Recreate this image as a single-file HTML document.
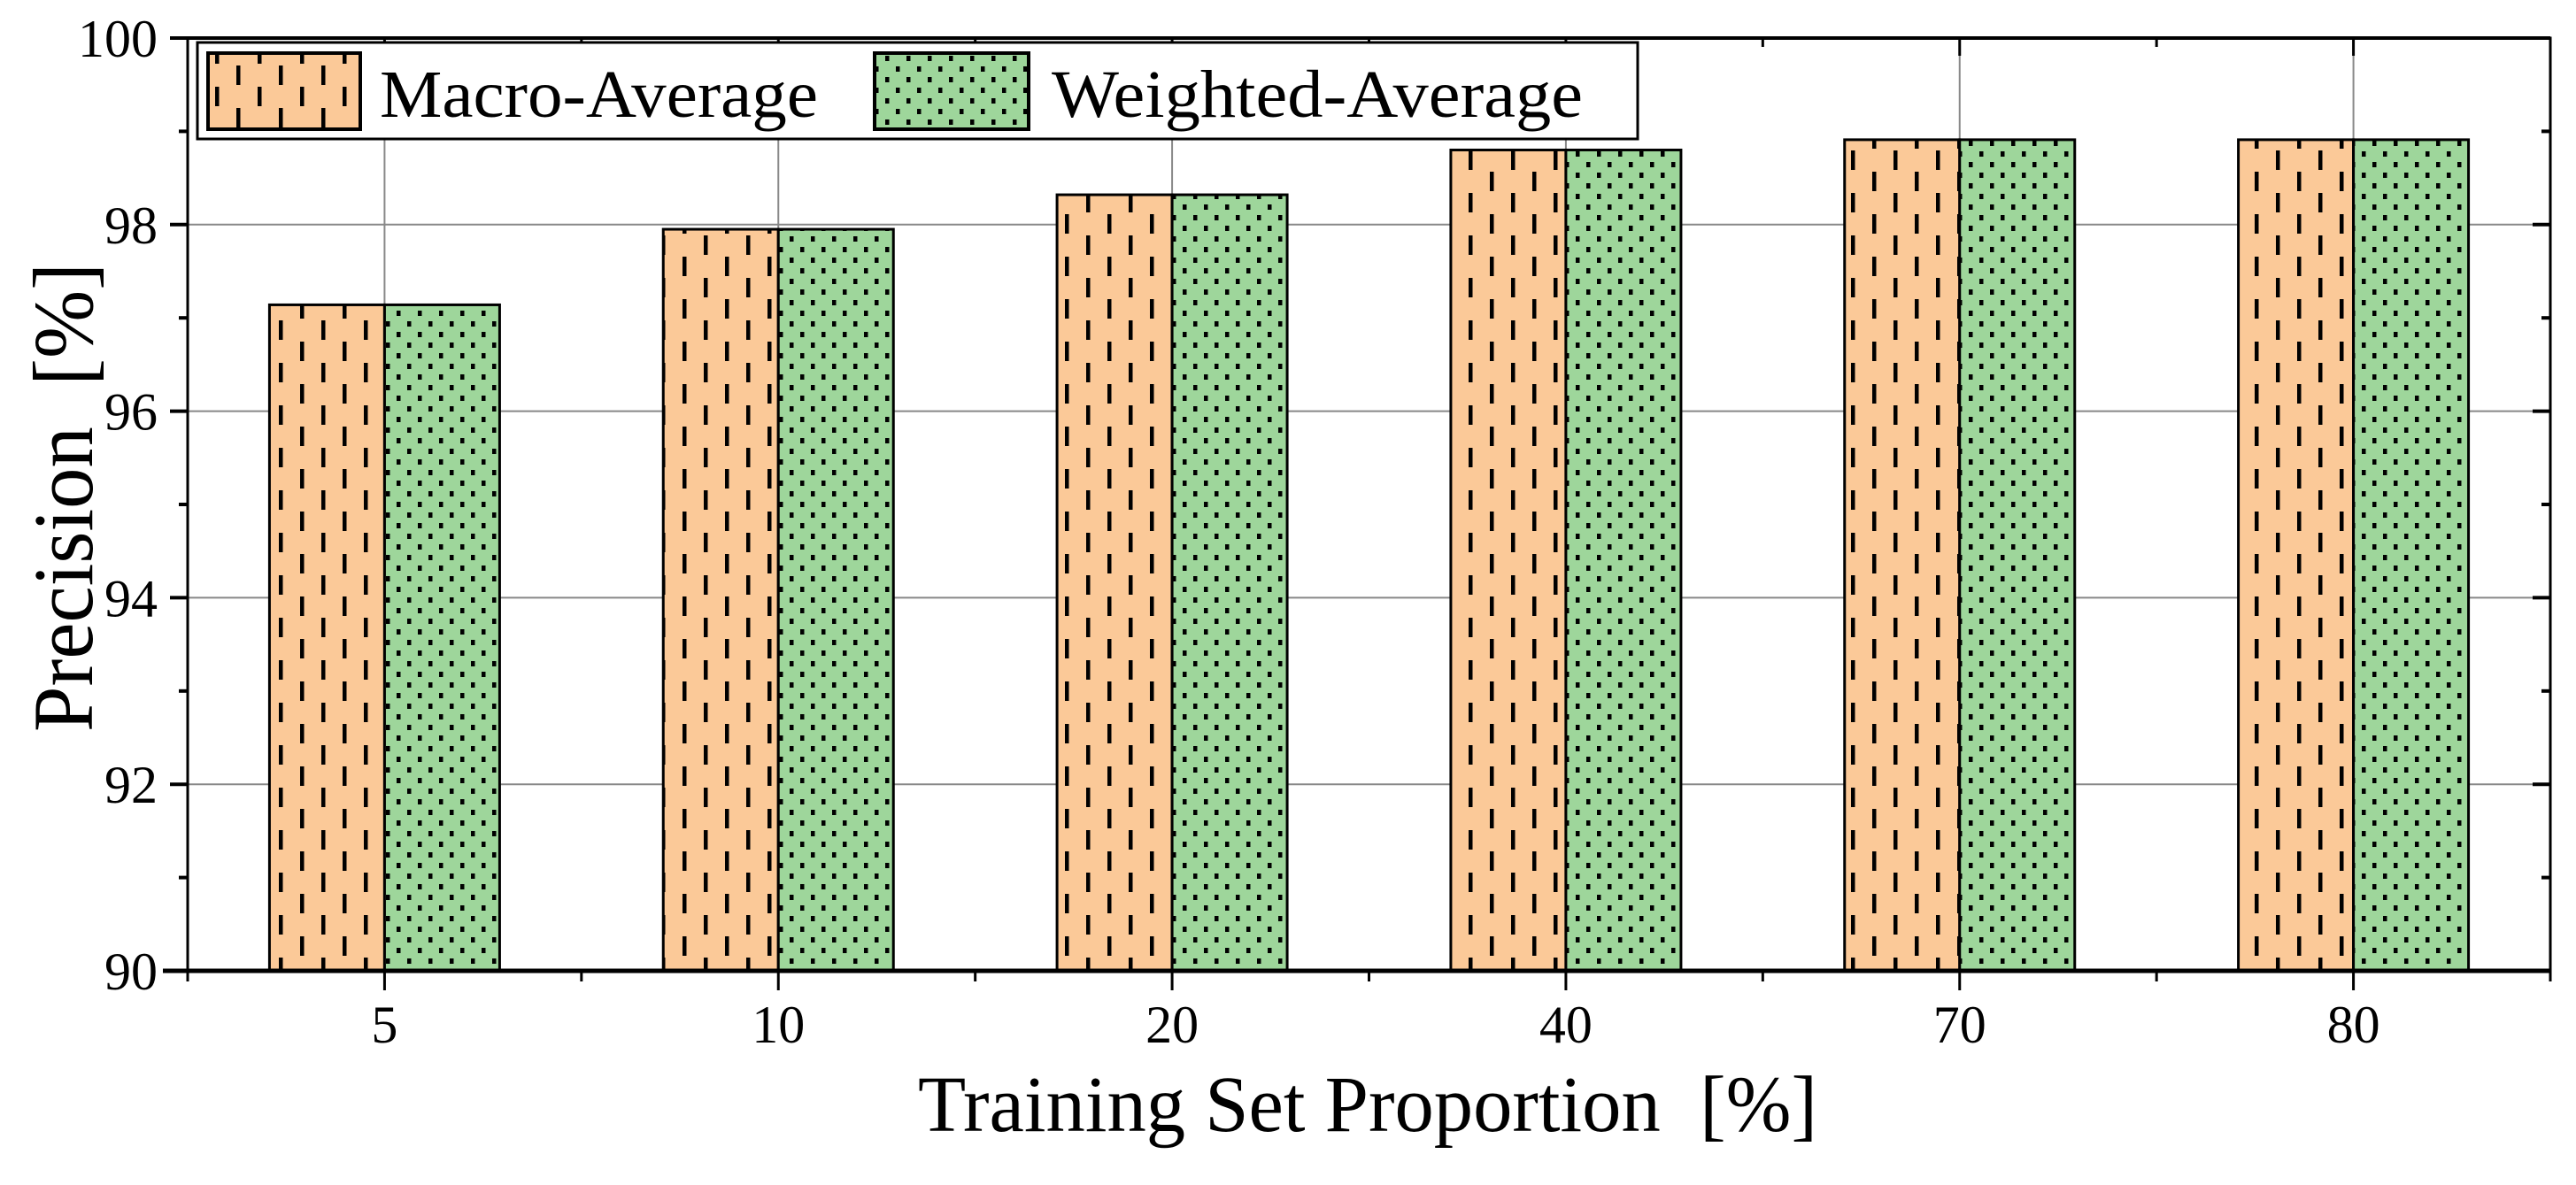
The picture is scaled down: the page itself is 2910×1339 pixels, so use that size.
<!DOCTYPE html>
<html><head><meta charset="utf-8"><style>
html,body{margin:0;padding:0;background:#fff}
svg{display:block}
text{font-family:"Liberation Serif",serif;fill:#000}
</style></head><body>
<svg id="chart" width="2910" height="1339" viewBox="0 0 2910 1339">
<defs>
<pattern id="pDash" patternUnits="userSpaceOnUse" width="48" height="48" x="3" y="0">
<rect width="48" height="48" fill="#FBC998"/>
<rect x="0" y="2" width="4.5" height="22" fill="#000"/>
<rect x="24" y="26" width="4.5" height="22" fill="#000"/>
</pattern>
<pattern id="pDot" patternUnits="userSpaceOnUse" width="24" height="24" x="4" y="0">
<rect width="24" height="24" fill="#9ED69B"/>
<rect x="0" y="3" width="4.5" height="6" fill="#000"/>
<rect x="12" y="15" width="4.5" height="6" fill="#000"/>
</pattern>
</defs>
<g id="grid"></g>
<g id="bars"></g>
<g id="axes"></g>
<g>
<rect x="223" y="48" width="1627" height="109" fill="#fff" stroke="#000" stroke-width="3"/>
<rect x="235" y="60" width="172" height="86" fill="url(#pDash)" stroke="#000" stroke-width="4"/>
<text x="429" y="132" font-size="76" textLength="495" lengthAdjust="spacingAndGlyphs">Macro-Average</text>
<rect x="988" y="60" width="174" height="86" fill="url(#pDot)" stroke="#000" stroke-width="4"/>
<text x="1188" y="132" font-size="76" textLength="600" lengthAdjust="spacingAndGlyphs">Weighted-Average</text>
</g>
<text x="1545" y="1278" font-size="90" text-anchor="middle" textLength="1016" lengthAdjust="spacingAndGlyphs" style="white-space:pre">Training Set Proportion  [%]</text>
<text transform="translate(104,562) rotate(-90)" font-size="96" text-anchor="middle" textLength="530" lengthAdjust="spacingAndGlyphs" style="white-space:pre">Precision  [%]</text>
</svg>
<script>
const categories = ["5","10","20","40","70","80"];
const macroValues = [97.14, 97.95, 98.32, 98.80, 98.91, 98.91];
const weightedValues = [97.14, 97.95, 98.32, 98.80, 98.91, 98.91];
const yTicks = [90, 92, 94, 96, 98, 100];
const yMinorTicks = [91, 93, 95, 97, 99];

const NS = "http://www.w3.org/2000/svg";
const L = 212, R = 2881, T = 43, B = 1097;
const yMin = 90, yMax = 100;
const n = categories.length;
const band = (R - L) / n;
function xPos(i){ return L + band * (i + 0.5); }
function yPos(v){ return B - (v - yMin) / (yMax - yMin) * (B - T); }
function mk(tag, attrs, parent){
  const e = document.createElementNS(NS, tag);
  for (const k in attrs) e.setAttribute(k, attrs[k]);
  parent.appendChild(e);
  return e;
}
const grid = document.getElementById('grid');
const bars = document.getElementById('bars');
const axes = document.getElementById('axes');
const barW = 130;

categories.forEach((c, i) => {
  const g = mk('line', {x1:xPos(i), x2:xPos(i), y1:T, y2:B, stroke:'#888', 'stroke-width':2}, grid);
  
  
});
yTicks.forEach(v => {
  const g = mk('line', {x1:L, x2:R, y1:yPos(v), y2:yPos(v), stroke:'#888', 'stroke-width':2}, grid);
  
  
});

categories.forEach((c, i) => {
  const cx = xPos(i);
  const ym = yPos(macroValues[i]);
  const b1 = mk('rect', {x:cx - barW, y:ym, width:barW, height:B - ym, fill:'url(#pDash)', stroke:'#000', 'stroke-width':3}, bars);
  
  
  const yw = yPos(weightedValues[i]);
  const b2 = mk('rect', {x:cx, y:yw, width:barW, height:B - yw, fill:'url(#pDot)', stroke:'#000', 'stroke-width':3}, bars);
  
  
  const t = mk('text', {x:cx, y:1178, 'font-size':60, 'text-anchor':'middle'}, axes);
  t.textContent = c;
  
  
  mk('line', {x1:cx, x2:cx, y1:B, y2:B + 22, stroke:'#000', 'stroke-width':3}, axes);
  mk('line', {x1:cx, x2:cx, y1:T, y2:T + 20, stroke:'#000', 'stroke-width':3}, axes);
});
for (let i = 0; i <= n; i++) {
  const x = L + band * i;
  mk('line', {x1:x, x2:x, y1:B, y2:B + 12, stroke:'#000', 'stroke-width':3}, axes);
  mk('line', {x1:x, x2:x, y1:T, y2:T + 10, stroke:'#000', 'stroke-width':3}, axes);
}
yTicks.forEach(v => {
  const y = yPos(v);
  mk('line', {x1:L - 20, x2:L, y1:y, y2:y, stroke:'#000', 'stroke-width':4}, axes);
  mk('line', {x1:R - 20, x2:R, y1:y, y2:y, stroke:'#000', 'stroke-width':4}, axes);
  const t = mk('text', {x:178, y:y + 21, 'font-size':60, 'text-anchor':'end'}, axes);
  t.textContent = v;
  
  
});
yMinorTicks.forEach(v => {
  const y = yPos(v);
  mk('line', {x1:L - 10, x2:L, y1:y, y2:y, stroke:'#000', 'stroke-width':4}, axes);
  mk('line', {x1:R - 10, x2:R, y1:y, y2:y, stroke:'#000', 'stroke-width':4}, axes);
});
const frame = mk('rect', {x:L, y:T, width:R - L, height:B - T, fill:'none', stroke:'#000', 'stroke-width':3}, axes);


mk('line', {x1:L - 28, x2:R, y1:B, y2:B, stroke:'#000', 'stroke-width':5}, axes);
mk('line', {x1:L - 20, x2:R, y1:T, y2:T, stroke:'#000', 'stroke-width':4}, axes);
</script>
</body></html>
